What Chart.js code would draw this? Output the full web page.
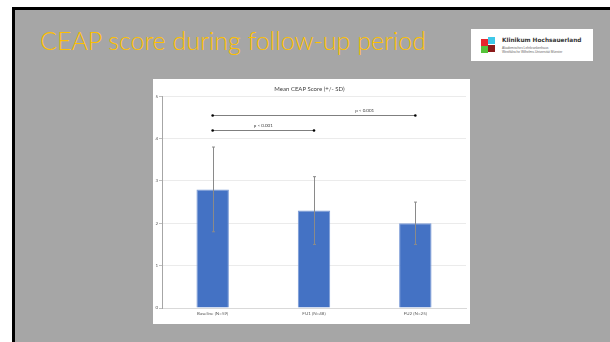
<!DOCTYPE html>
<html>
<head>
<meta charset="utf-8">
<script src="https://cdn.jsdelivr.net/npm/chart.js@4.4.1/dist/chart.umd.min.js"></script>
<style>
  html, body { margin: 0; padding: 0; background: #fff; width: 610px; height: 342px; overflow: hidden; }
  #slide { position: absolute; left: 12px; top: 7px; width: 610px; height: 350px; background: #a6a6a6; border: 3px solid #000; box-sizing: border-box; }
  #heading { position: absolute; left: 40px; top: 25px; font-family: Lato, sans-serif; font-weight: 300; font-size: 25px; color: #ffc000; white-space: nowrap; }
  #logo { position: absolute; left: 471px; top: 29px; width: 122px; height: 32px; background: #fff; }
  .sq { position: absolute; width: 7px; height: 7px; }
  #logoName { position: absolute; left: 31px; top: 8px; font-family: "DejaVu Sans", sans-serif; font-weight: bold; font-size: 5.8px; color: #333; white-space: nowrap; }
  .logoSub { position: absolute; left: 31px; font-family: "Liberation Sans", sans-serif; font-size: 3.2px; color: #666; white-space: nowrap; }
  #panel { position: absolute; left: 153px; top: 79px; width: 317px; height: 245px; background: #fff; }
</style>
</head>
<body>
<div id="slide"></div>
<div id="heading">CEAP score during follow-up period</div>
<div id="logo">
  <div class="sq" style="left:10px;top:10px;background:#e8262d;"></div>
  <div class="sq" style="left:17px;top:8px;background:#3fc8e8;"></div>
  <div class="sq" style="left:10px;top:17px;background:#55c43a;"></div>
  <div class="sq" style="left:17px;top:16px;background:#8b1a1a;"></div>
  <div id="logoName">Klinikum Hochsauerland</div>
  <div class="logoSub" style="top:17px;">Akademisches Lehrkrankenhaus</div>
  <div class="logoSub" style="top:21px;">Westfälische Wilhelms-Universität Münster</div>
</div>
<div id="panel"><canvas id="chart" width="317" height="245"></canvas></div>
<script>
const categories = ['Baseline (N=59)', 'FU1 (N=48)', 'FU2 (N=25)'];
const meanScore = [2.8, 2.3, 2.0];
const sdScore = [1.0, 0.8, 0.5];
const yTicks = [0, 1, 2, 3, 4, 5];
// significance brackets: [from index, to index, level in score units, label]
const bracketFrom = [0, 0];
const bracketTo = [1, 2];
const bracketLevel = [4.2, 4.55];
const bracketLabel = ['p < 0.001', 'p < 0.001'];

const extras = {
  id: 'extras',
  afterDatasetsDraw(chart) {
    const ctx = chart.ctx;
    const x = chart.scales.x, y = chart.scales.y;
    ctx.save();
    // error bars
    ctx.strokeStyle = '#8a8a8a';
    ctx.lineWidth = 1;
    meanScore.forEach((m, i) => {
      const cx = Math.round(x.getPixelForValue(i)) + 0.5;
      const top = y.getPixelForValue(m + sdScore[i]);
      const bot = y.getPixelForValue(m - sdScore[i]);
      ctx.beginPath();
      ctx.moveTo(cx, top); ctx.lineTo(cx, bot);
      ctx.moveTo(cx - 1.5, top); ctx.lineTo(cx + 1.5, top);
      ctx.moveTo(cx - 1.5, bot); ctx.lineTo(cx + 1.5, bot);
      ctx.stroke();
    });
    // brackets
    ctx.font = '4.5px Lato';
    ctx.textAlign = 'center';
    ctx.textBaseline = 'bottom';
    bracketFrom.forEach((f, k) => {
      const x1 = x.getPixelForValue(f), x2 = x.getPixelForValue(bracketTo[k]);
      const by = Math.round(y.getPixelForValue(bracketLevel[k])) + 0.5;
      ctx.strokeStyle = '#7f7f7f';
      ctx.beginPath(); ctx.moveTo(x1, by); ctx.lineTo(x2, by); ctx.stroke();
      ctx.fillStyle = '#000';
      ctx.beginPath(); ctx.arc(x1, by, 1.3, 0, Math.PI * 2); ctx.fill();
      ctx.beginPath(); ctx.arc(x2, by, 1.3, 0, Math.PI * 2); ctx.fill();
      const tx = bracketTo[k] - f > 1 ? x.getPixelForValue(bracketTo[k] - 0.5) : (x1 + x2) / 2;
      ctx.fillStyle = '#404040';
      ctx.fillText(bracketLabel[k], tx, by - 3);
    });
    ctx.restore();
  }
};

Chart.defaults.font.family = 'Lato';
new Chart(document.getElementById('chart'), {
  type: 'bar',
  data: {
    labels: categories,
    datasets: [{
      data: meanScore,
      backgroundColor: '#4472c4',
      borderColor: '#7a9ad6',
      borderWidth: 1,
      barPercentage: 0.32,
      categoryPercentage: 1
    }]
  },
  options: {
    responsive: false,
    animation: false,
    devicePixelRatio: 1,
    layout: { padding: { left: 0, right: 4, top: 0, bottom: 0 } },
    plugins: {
      legend: { display: false },
      tooltip: { enabled: false },
      title: {
        display: true,
        text: 'Mean CEAP Score (+/- SD)',
        color: '#404040',
        font: { size: 6, weight: 'normal' },
        padding: { top: 6, bottom: 4 }
      }
    },
    scales: {
      x: {
        grid: { display: false, drawTicks: false },
        border: { color: '#d9d9d9' },
        ticks: { color: '#595959', font: { size: 4.5 }, padding: 3, maxRotation: 0 },
        afterFit(s) { s.height = 16; }
      },
      y: {
        min: 0, max: 5,
        afterBuildTicks(s) { s.ticks = yTicks.map(v => ({ value: v })); },
        grid: { color: '#ebebeb', tickLength: 3, tickColor: '#bfbfbf' },
        border: { color: '#a6a6a6' },
        ticks: { color: '#595959', font: { size: 4.5 }, padding: 1 },
        afterFit(s) { s.width = 9; }
      }
    }
  },
  plugins: [extras]
});
</script>
</body>
</html>
